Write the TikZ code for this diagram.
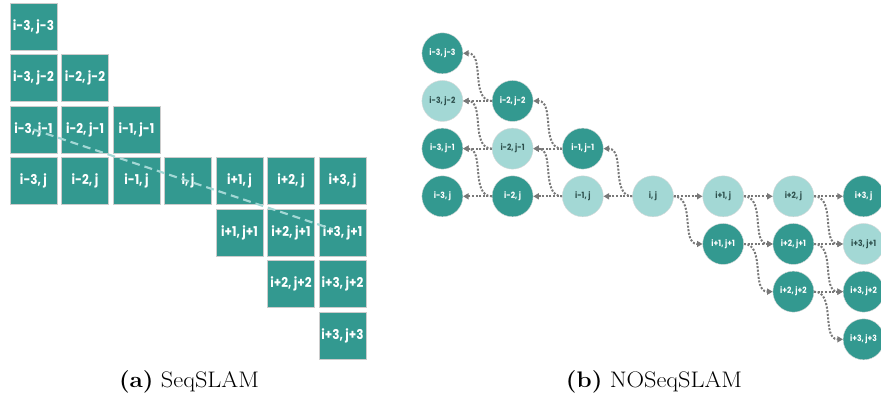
\documentclass[tikz,border=0pt]{standalone}
\usepackage{fontspec}
\newfontfamily\pop{Poppins}[FakeStretch=0.88]
\usetikzlibrary{arrows.meta}
\definecolor{dk}{HTML}{339990}
\definecolor{lt}{HTML}{A3D8D5}
\definecolor{lttext}{HTML}{2D4F4C}
\definecolor{arrg}{HTML}{787878}
\begin{document}
\begin{tikzpicture}[x=1pt,y=1pt,
  sq/.style={rectangle, minimum size=47pt, inner sep=0pt, fill=dk, draw=gray!40, line width=0.6pt, text=white, font=\pop\bfseries\fontsize{13.5}{15}\selectfont},
  cd/.style={circle, minimum size=41pt, inner sep=0pt, fill=dk, draw=gray!30, line width=0.4pt, text=white, font=\pop\bfseries\fontsize{8.6}{10}\selectfont},
  cl/.style={cd, fill=lt, text=lttext},
  arr/.style={draw=arrg, line width=2pt, dash pattern=on 2pt off 1.6pt, -{Triangle[length=5.5pt,width=6pt]}},
  seq/.style={draw=lt, line width=2.2pt, dash pattern=on 8pt off 5pt},
  captxt/.style={anchor=base, xscale=1.08, transform shape, font=\fontsize{22.5}{26}\selectfont}]
\useasboundingbox (0,0) rectangle (881,-398);
% (a) SeqSLAM grid
\foreach \c/\r/\l in {0/0/{i-3, j-3},
  0/1/{i-3, j-2}, 1/1/{i-2, j-2},
  0/2/{i-3, j-1}, 1/2/{i-2, j-1}, 2/2/{i-1, j-1},
  0/3/{i-3, j}, 1/3/{i-2, j}, 2/3/{i-1, j}, 3/3/{i, j}, 4/3/{i+1, j}, 5/3/{i+2, j}, 6/3/{i+3, j},
  4/4/{i+1, j+1}, 5/4/{i+2, j+1}, 6/4/{i+3, j+1},
  5/5/{i+2, j+2}, 6/5/{i+3, j+2},
  6/6/{i+3, j+3}}
  \node[sq] (s\c\r) at ({33.5+51.5*\c},{-26.5-51.5*\r}) {\l};
\draw[seq, shorten >=10pt] (s02.center) -- (s64.center);
% (b) NOSeqSLAM graph
\foreach \c/\r/\s/\l in {0/0/cd/{i-3, j-3},
  0/1/cl/{i-3, j-2}, 1/1/cd/{i-2, j-2},
  0/2/cd/{i-3, j-1}, 1/2/cl/{i-2, j-1}, 2/2/cd/{i-1, j-1},
  0/3/cd/{i-3, j}, 1/3/cd/{i-2, j}, 2/3/cl/{i-1, j}, 3/3/cl/{i, j}, 4/3/cl/{i+1, j}, 5/3/cl/{i+2, j}, 6/3/cd/{i+3, j},
  4/4/cd/{i+1, j+1}, 5/4/cd/{i+2, j+1}, 6/4/cl/{i+3, j+1},
  5/5/cd/{i+2, j+2}, 6/5/cd/{i+3, j+2},
  6/6/cd/{i+3, j+3}}
  \node[\s] (c\c\r) at ({442.4+70.2*\c},{-53.3-47.67*\r}) {\l};
\foreach \a/\b/\d in {33/23/22, 23/13/12, 22/12/11, 13/03/02, 12/02/01, 11/01/00} {
  \draw[arr] (c\a.west) -- (c\b.east);
  \draw[arr] (c\a.west) to[out=180,in=0] (c\d.east);
}
\foreach \a/\b/\d in {33/43/44, 43/53/54, 44/54/55, 53/63/64, 54/64/65, 55/65/66} {
  \draw[arr] (c\a.east) -- (c\b.west);
  \draw[arr] (c\a.east) to[out=0,in=180] (c\d.west);
}
% captions
\node[captxt] (capa) at (189,-387) {\textbf{(a)} SeqSLAM};
\node[captxt] (capb) at (654,-387) {\textbf{(b)} NOSeqSLAM};
\end{tikzpicture}
\end{document}
